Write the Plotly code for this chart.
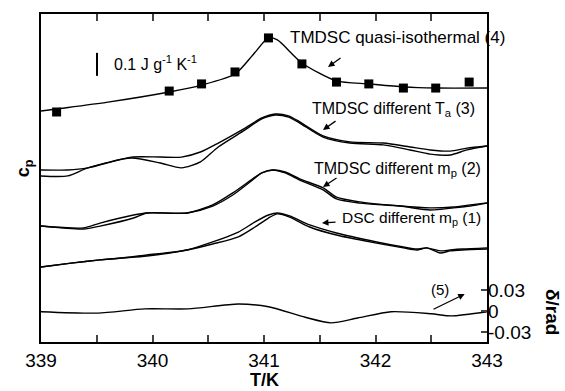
import plotly.graph_objects as go

# ---- data (T in K, cp in J g^-1 K^-1 with arbitrary offsets, delta in rad) ----
T_sq = [339.14, 340.15, 340.44, 340.74, 341.04, 341.34, 341.65, 341.94, 342.25, 342.54, 342.84]
cp_sq = [1.000, 1.091, 1.122, 1.174, 1.322, 1.209, 1.130, 1.122, 1.104, 1.104, 1.130]

T_fit = [339.00, 339.14, 339.60, 340.15, 340.44, 340.74, 340.90, 341.04, 341.12, 341.34, 341.65, 341.94, 342.25, 342.54, 343.00]
cp_fit = [1.004, 1.013, 1.043, 1.087, 1.117, 1.165, 1.248, 1.322, 1.313, 1.213, 1.135, 1.122, 1.109, 1.104, 1.104]

T_3 = [339.00, 339.24, 339.42, 339.81, 340.07, 340.26, 340.43, 340.59, 340.83, 340.98, 341.10, 341.22,
       341.32, 341.53, 341.77, 342.07, 342.31, 342.49, 342.67, 342.82, 343.00]
cp_3a = [0.748, 0.748, 0.757, 0.804, 0.804, 0.804, 0.826, 0.865, 0.930, 0.974, 0.991, 0.983,
         0.957, 0.896, 0.870, 0.865, 0.848, 0.835, 0.830, 0.843, 0.852]
cp_3b = [0.722, 0.722, 0.757, 0.800, 0.778, 0.757, 0.783, 0.848, 0.922, 0.970, 0.987, 0.978,
         0.952, 0.891, 0.865, 0.857, 0.835, 0.817, 0.813, 0.835, 0.852]

T_2 = [339.00, 339.38, 339.53, 339.83, 339.95, 340.31, 340.54, 340.72, 340.92, 340.98, 341.08, 341.19,
       341.32, 341.53, 341.65, 341.86, 342.22, 342.49, 342.70, 342.85, 343.00]
cp_2a = [0.504, 0.496, 0.517, 0.552, 0.561, 0.561, 0.596, 0.648, 0.717, 0.735, 0.748, 0.739,
         0.709, 0.670, 0.630, 0.609, 0.591, 0.583, 0.587, 0.596, 0.604]
cp_2b = [0.504, 0.491, 0.504, 0.539, 0.561, 0.561, 0.591, 0.639, 0.713, 0.735, 0.748, 0.735,
         0.704, 0.661, 0.622, 0.604, 0.591, 0.574, 0.583, 0.591, 0.604]

T_1 = [339.00, 339.27, 339.53, 339.72, 339.95, 340.31, 340.54, 340.77, 340.92, 341.04, 341.12, 341.23,
       341.41, 341.65, 342.01, 342.25, 342.37, 342.46, 342.58, 342.67, 342.78, 343.00]
cp_1a = [0.326, 0.343, 0.357, 0.365, 0.378, 0.400, 0.435, 0.478, 0.522, 0.552, 0.561, 0.548,
         0.509, 0.474, 0.435, 0.413, 0.404, 0.409, 0.396, 0.400, 0.404, 0.409]
cp_1b = [0.326, 0.343, 0.357, 0.365, 0.374, 0.400, 0.426, 0.457, 0.500, 0.539, 0.557, 0.543,
         0.500, 0.465, 0.430, 0.409, 0.400, 0.409, 0.387, 0.396, 0.400, 0.404]

T_5 = [339.00, 339.51, 339.93, 340.32, 340.77, 341.04, 341.37, 341.60, 341.84, 342.14, 342.50, 342.68, 343.00]
delta_5 = [-0.001, -0.003, 0.003, 0.003, 0.010, 0.006, -0.009, -0.017, -0.010, -0.001, -0.004, -0.007, -0.001]

x_ticks = [339, 340, 341, 342, 343]
d_ticks = [-0.03, 0, 0.03]
d_ticktext = ["-0.03", "0", "0.03"]

FONT = "Liberation Sans, Arial, Helvetica, sans-serif"
LW = 1.4

fig = go.Figure()

def line(x, y, yaxis="y"):
    fig.add_trace(go.Scatter(x=x, y=y, mode="lines", yaxis=yaxis,
                             line=dict(color="black", width=LW, shape="spline", smoothing=0.7),
                             showlegend=False, hoverinfo="skip"))

line(T_fit, cp_fit)
fig.add_trace(go.Scatter(x=T_sq, y=cp_sq, mode="markers",
                         marker=dict(symbol="square", size=9, color="black"),
                         showlegend=False))
for a, b, t in [(cp_3a, cp_3b, T_3), (cp_2a, cp_2b, T_2), (cp_1a, cp_1b, T_1)]:
    line(t, a)
    line(t, b)
line(T_5, delta_5, yaxis="y2")

fig.update_layout(
    width=565, height=391,
    margin=dict(l=41, r=78, t=14, b=49),
    paper_bgcolor="white", plot_bgcolor="white",
    font=dict(family=FONT, color="black", size=19),
    xaxis=dict(range=[339, 343], tickvals=x_ticks, ticks="inside", ticklen=7, tickwidth=1.5,
               minor=dict(dtick=0.5, ticks="inside", ticklen=4, tickwidth=1.5, showgrid=False),
               showline=True, linewidth=2, linecolor="black", mirror="allticks",
               showgrid=False, zeroline=False, tickfont=dict(size=19)),
    yaxis=dict(range=[0, 1.426], showticklabels=False, ticks="", showline=True, linewidth=2,
               linecolor="black", mirror=True, showgrid=False, zeroline=False),
    yaxis2=dict(range=[-0.0443, 0.4243], overlaying="y", side="right", tickvals=d_ticks,
                ticktext=d_ticktext, ticks="inside", ticklen=6, tickwidth=1.5,
                showline=False, showgrid=False, zeroline=False, tickfont=dict(size=19)),
)

# scale bar 0.1 J g-1 K-1
fig.add_shape(type="line", xref="paper", yref="y", x0=0.1256, x1=0.1256, y0=1.157, y1=1.257,
              line=dict(color="black", width=2))
anns = [
    dict(x=0.16, y=1.213, xref="paper", yref="y", text="0.1 J g<sup>-1</sup> K<sup>-1</sup>",
         showarrow=False, xanchor="left", yanchor="middle", font=dict(size=16)),
    dict(x=341.215, y=1.326, text="TMDSC quasi-isothermal (4)", showarrow=False,
         xanchor="left", yanchor="middle", font=dict(size=17)),
    dict(x=341.413, y=1.009, text="TMDSC different T<sub>a</sub> (3)", showarrow=False,
         xanchor="left", yanchor="middle", font=dict(size=16)),
    dict(x=341.43, y=0.748, text="TMDSC different m<sub>p</sub> (2)", showarrow=False,
         xanchor="left", yanchor="middle", font=dict(size=16)),
    dict(x=341.68, y=0.535, text="DSC different m<sub>p</sub> (1)", showarrow=False,
         xanchor="left", yanchor="middle", font=dict(size=15.5)),
    dict(x=342.58, y=0.030, yref="y2", text="(5)", showarrow=False,
         xanchor="center", yanchor="middle", font=dict(size=15)),
    dict(x=0.5, y=-0.116, xref="paper", yref="paper", text="<b>T/K</b>", showarrow=False,
         xanchor="center", yanchor="middle", font=dict(size=18)),
    dict(x=-0.038, y=0.53, xref="paper", yref="paper", text="<b>c<sub>p</sub></b>", showarrow=False,
         textangle=-90, xanchor="center", yanchor="middle", font=dict(size=18)),
    dict(x=1.1457, y=0.0915, xref="paper", yref="paper", text="<b>δ/rad</b>", showarrow=False,
         textangle=90, xanchor="center", yanchor="middle", font=dict(size=19)),
]
# arrows: (head T, head value, tail T, tail value, yref)
arrows = [
    (341.574, 1.196, 341.70, 1.239, "y"),
    (341.529, 0.922, 341.655, 0.965, "y"),
    (341.529, 0.674, 341.664, 0.717, "y"),
    (341.52, 0.517, 341.655, 0.522, "y"),
    (342.80, 0.0243, 342.507, 0.0014, "y2"),
]
for hx, hy, tx, ty, yr in arrows:
    anns.append(dict(x=hx, y=hy, ax=tx, ay=ty, xref="x", yref=yr, axref="x", ayref=yr,
                     text="", showarrow=True, arrowhead=2, arrowsize=1, arrowwidth=1.3,
                     arrowcolor="black"))
fig.update_layout(annotations=anns)

fig.write_html("out.html")
